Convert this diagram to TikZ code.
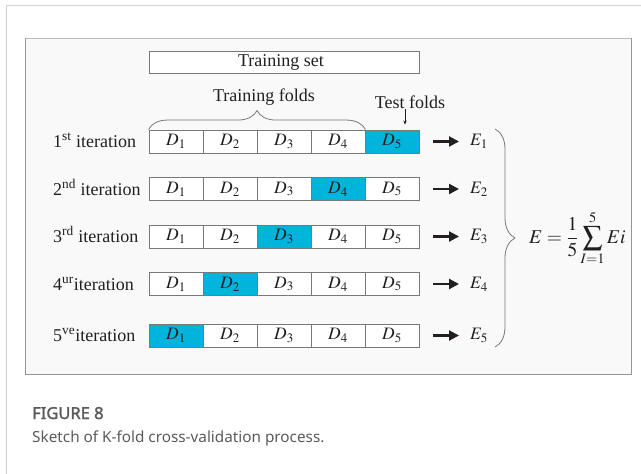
\documentclass[tikz,border=0pt]{standalone}
\usepackage{mathptmx}
\usepackage{fontspec}
\setmainfont{Liberation Serif}
\newfontfamily\capfont{Noto Sans}
\newfontfamily\capheadfont[FakeBold=1.6]{Noto Sans}
\usetikzlibrary{decorations.pathreplacing,arrows.meta,calc}

\definecolor{foldcyan}{RGB}{0,180,220}
\definecolor{cellgray}{RGB}{120,120,120}
\definecolor{panelbg}{RGB}{249,249,249}
\definecolor{panelline}{RGB}{185,185,185}
\definecolor{paneledge}{RGB}{150,150,150}
\definecolor{cardline}{RGB}{210,210,210}
\definecolor{inkc}{RGB}{35,31,32}
\definecolor{capc}{RGB}{90,90,90}

\tikzset{
  cell/.style={draw=cellgray, line width=0.9pt, minimum width=54pt,
    minimum height=23pt, inner sep=0pt, text=inkc,
    font=\fontsize{17.5}{18}\selectfont},
  itlabel/.style={anchor=base west, inner sep=0pt, text=inkc,
    font=\fontsize{18}{20}\selectfont},
  elabel/.style={anchor=west, inner sep=0pt, text=inkc,
    font=\fontsize{17.5}{18}\selectfont},
  resarrow/.style={draw=inkc, line width=2.2pt,
    -{Triangle[length=10pt,width=10pt]}},
  bracepath/.style={draw=cellgray, line width=0.8pt, decorate},
  toptext/.style={inner sep=0pt, text=inkc, font=\fontsize{18}{20}\selectfont},
}

\begin{document}
\begin{tikzpicture}[x=1pt,y=-1pt]
\useasboundingbox (0,0) rectangle (641,474);

% card edge and figure panel
\draw[cardline, line width=0.8pt] (6,474) -- (6,5) -- (641,5);
\draw[fill=panelbg, draw=panelline, line width=0.8pt] (25,38) rectangle (631,374);
\draw[draw=paneledge, line width=1pt] (25,38) -- (25,374) -- (631,374) -- (631,38);

% whole training set
\node[cell, minimum width=270pt, minimum height=22pt, fill=white,
      font=\fontsize{18}{20}\selectfont] (tset) at (284,62) {\hspace*{-6pt}Training set};

% five folds per iteration, the test fold in cyan
\foreach \r/\yy in {1/141.5,2/189,3/236.5,4/284,5/335.5}{
  \pgfmathtruncatemacro\t{6-\r}
  \foreach \c in {1,...,5}{
    \ifnum\c=\t \def\fillc{foldcyan}\else\def\fillc{white}\fi
    \node[cell, fill=\fillc] (r\r c\c) at ({149+54*\c-27},\yy) {$D_{\c}$};
  }
  \node[elabel] (e\r) at (470,\yy) {$E_{\r}$};
  \draw[resarrow] ($(r\r c5.east)+(14,0)$) -- ($(e\r.west)+(-11,0)$);
}

% iteration labels
\node[itlabel] (it1) at (53,147.5) {1\textsuperscript{st} iteration};
\node[itlabel] (it2) at (53,195) {2\textsuperscript{nd} iteration};
\node[itlabel] (it3) at (53,242.5) {3\textsuperscript{rd} iteration};
\node[itlabel] (it4) at (53,290) {4\textsuperscript{ur}iteration};
\node[itlabel] (it5) at (53,341.5) {5\textsuperscript{ve}iteration};

% training folds brace and test fold pointer
\draw[bracepath, decoration={brace, amplitude=19pt}]
  (r1c1.north west) -- (r1c4.north east);
\node[toptext] (tfolds) at (264,97) {Training folds};
\node[toptext] (tests) at (410,102) {Test folds};
\coordinate (tp) at (405,109);
\draw[draw=inkc, line width=0.7pt, -{Stealth[length=4pt,width=3.5pt]}]
  (tp) -- ($(tp |- r1c5.north)+(0,-5)$);

% right brace collecting the errors
\coordinate (bt) at (495,129);
\coordinate (bb) at (495,347);
\draw[bracepath, decoration={brace, amplitude=20pt}] (bt) -- (bb);

% averaged error
\node[anchor=west, inner sep=0pt, text=inkc, font=\fontsize{19.5}{20}\selectfont]
  (avg) at (529,238) {$\displaystyle E=\frac{1}{5}\sum_{I=1}^{5}Ei$};

% caption
\node[anchor=base west, inner sep=0pt, text=capc,
      font=\capheadfont\fontsize{16.5}{18}\selectfont] (figno) at (32,419) {FIGURE 8};
\node[anchor=base west, inner sep=0pt, text=capc,
      font=\capfont\fontsize{15.3}{17}\selectfont] (figcap) at (32,442)
  {Sketch of K-fold cross-validation process.};
\end{tikzpicture}
\end{document}
